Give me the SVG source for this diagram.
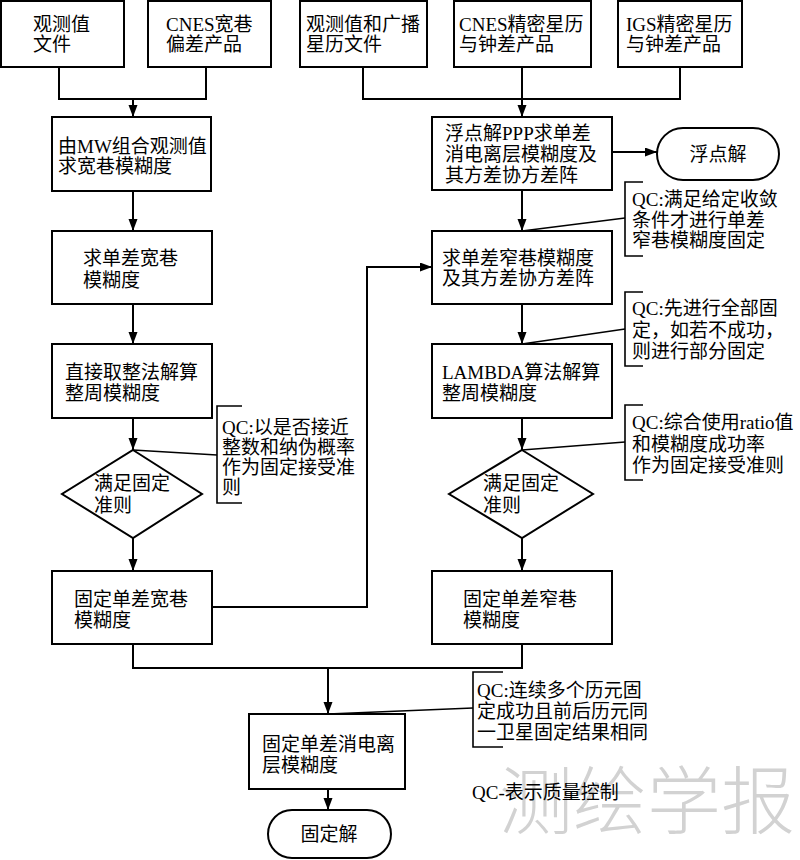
<svg xmlns="http://www.w3.org/2000/svg" width="800" height="860" viewBox="0 0 800 860">
<style>
.b{fill:#fff;stroke:#000;stroke-width:2}
.c{fill:none;stroke:#000;stroke-width:2}
.q{fill:none;stroke:#000;stroke-width:1.6}
text{font-family:"Liberation Serif","Noto Sans CJK SC",serif;font-size:19px;fill:#000}
.m{text-anchor:middle}
.w{font-family:"Noto Sans CJK SC",sans-serif;font-size:74px;font-weight:300;fill:#d2d2d2}
</style>
<defs>
<marker id="a" markerUnits="userSpaceOnUse" markerWidth="12" markerHeight="10" refX="12" refY="4.5" orient="auto">
<path d="M0,0 L12,4.5 L0,9 z" fill="#000"/>
</marker>
</defs>
<rect width="800" height="860" fill="#fff"/>
<text class="w" x="647" y="828" text-anchor="middle">测绘学报</text>
<g id="connectors">
<path class="c" d="M59,67 V99 H206 V67"/>
<path class="c" d="M133,99 V117" marker-end="url(#a)"/>
<path class="c" d="M363,67 V99 H680 V67"/>
<path class="c" d="M522,67 V117" marker-end="url(#a)"/>
<path class="c" d="M133,191 V231" marker-end="url(#a)"/>
<path class="c" d="M133,304 V344" marker-end="url(#a)"/>
<path class="c" d="M133,418 V450" marker-end="url(#a)"/>
<path class="c" d="M133,538 V571" marker-end="url(#a)"/>
<path class="c" d="M212,607 H367 V267 H432" marker-end="url(#a)"/>
<path class="c" d="M522,190 V231" marker-end="url(#a)"/>
<path class="c" d="M522,304 V344" marker-end="url(#a)"/>
<path class="c" d="M522,418 V450" marker-end="url(#a)"/>
<path class="c" d="M522,538 V571" marker-end="url(#a)"/>
<path class="c" d="M612,152 H657" marker-end="url(#a)"/>
<path class="c" d="M133,644 V668 H522 V644"/>
<path class="c" d="M328,668 V714" marker-end="url(#a)"/>
<path class="c" d="M328,789 V810" marker-end="url(#a)"/>
<path class="q" d="M133,450 L217,455"/>
<path class="q" d="M522,231 L625,218"/>
<path class="q" d="M522,344 L625,329"/>
<path class="q" d="M522,450 L625,442"/>
<path class="q" d="M328,714 L473,708"/>
</g>
<g id="n1"><rect class="b" x="1" y="1" width="123" height="66"/><text x="33" y="31">观测值</text><text x="33" y="51">文件</text></g>
<g id="n2"><rect class="b" x="148" y="1" width="123" height="66"/><text x="166" y="31">CNES宽巷</text><text x="166" y="51">偏差产品</text></g>
<g id="n3"><rect class="b" x="300" y="1" width="127" height="66"/><text x="306" y="31">观测值和广播</text><text x="306" y="51">星历文件</text></g>
<g id="n4"><rect class="b" x="454" y="1" width="137" height="66"/><text x="459" y="31">CNES精密星历</text><text x="459" y="51">与钟差产品</text></g>
<g id="n5"><rect class="b" x="618" y="1" width="124" height="66"/><text x="626" y="31">IGS精密星历</text><text x="626" y="51">与钟差产品</text></g>
<g id="n6"><rect class="b" x="52" y="117" width="159" height="74"/><text x="58" y="153">由MW组合观测值</text><text x="58" y="173">求宽巷模糊度</text></g>
<g id="n7"><rect class="b" x="432" y="117" width="180" height="73"/><text x="445" y="140">浮点解PPP求单差</text><text x="445" y="161">消电离层模糊度及</text><text x="445" y="182">其方差协方差阵</text></g>
<g id="n8"><rect class="b" x="657" y="128" width="122" height="52" rx="26"/><text class="m" x="718" y="161">浮点解</text></g>
<g id="n9"><rect class="b" x="52" y="231" width="160" height="73"/><text x="83" y="265">求单差宽巷</text><text x="83" y="287">模糊度</text></g>
<g id="n10"><rect class="b" x="432" y="231" width="180" height="73"/><text x="442" y="265">求单差窄巷模糊度</text><text x="442" y="285">及其方差协方差阵</text></g>
<g id="n11"><rect class="b" x="52" y="344" width="160" height="74"/><text x="65" y="379">直接取整法解算</text><text x="65" y="400">整周模糊度</text></g>
<g id="n12"><rect class="b" x="432" y="344" width="180" height="74"/><text x="442" y="379">LAMBDA算法解算</text><text x="442" y="400">整周模糊度</text></g>
<g id="n13"><polygon class="b" points="133,450 202,494 133,538 62,494"/><text x="94" y="490">满足固定</text><text x="94" y="512">准则</text></g>
<g id="n14"><polygon class="b" points="522,450 593,494 522,538 449,494"/><text x="483" y="490">满足固定</text><text x="483" y="512">准则</text></g>
<g id="n15"><rect class="b" x="52" y="571" width="160" height="73"/><text x="74" y="606">固定单差宽巷</text><text x="74" y="627">模糊度</text></g>
<g id="n16"><rect class="b" x="432" y="571" width="180" height="73"/><text x="463" y="606">固定单差窄巷</text><text x="463" y="627">模糊度</text></g>
<g id="n17"><rect class="b" x="249" y="714" width="156" height="75"/><text x="262" y="751">固定单差消电离</text><text x="262" y="772">层模糊度</text></g>
<g id="n18"><rect class="b" x="268" y="810" width="123" height="48" rx="24"/><text class="m" x="329" y="841">固定解</text></g>
<g id="qc1"><path class="q" d="M242,406 H217 V503 H242"/><text x="222" y="434">QC:以是否接近</text><text x="222" y="454">整数和纳伪概率</text><text x="222" y="474">作为固定接受准</text><text x="222" y="494">则</text></g>
<g id="qc2"><path class="q" d="M643,182 H625 V256 H643"/><text x="632" y="206">QC:满足给定收敛</text><text x="632" y="227">条件才进行单差</text><text x="632" y="247">窄巷模糊度固定</text></g>
<g id="qc3"><path class="q" d="M643,292 H625 V366 H643"/><text x="632" y="315">QC:先进行全部固</text><text x="632" y="337">定，如若不成功，</text><text x="632" y="358">则进行部分固定</text></g>
<g id="qc4"><path class="q" d="M643,405 H625 V480 H643"/><text x="632" y="429">QC:综合使用ratio值</text><text x="632" y="451">和模糊度成功率</text><text x="632" y="472">作为固定接受准则</text></g>
<g id="qc5"><path class="q" d="M503,672 H473 V747 H503"/><text x="477" y="697">QC:连续多个历元固</text><text x="477" y="718">定成功且前后历元同</text><text x="477" y="739">一卫星固定结果相同</text></g>
<text x="472" y="799">QC-表示质量控制</text>
</svg>
